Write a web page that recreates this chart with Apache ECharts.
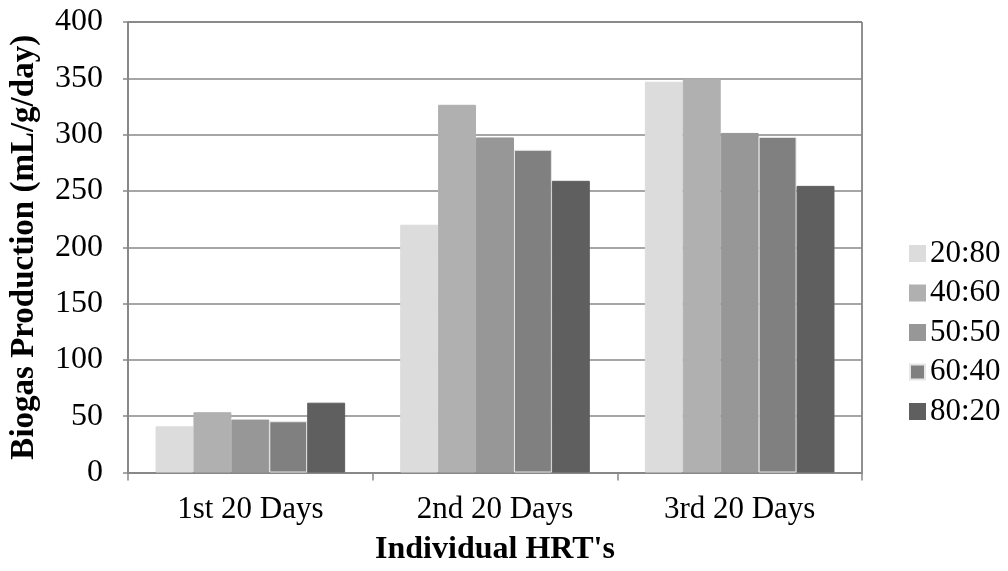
<!DOCTYPE html>
<html>
<head>
<meta charset="utf-8">
<script src="https://cdn.jsdelivr.net/npm/echarts@6/dist/echarts.min.js"></script>
<style>
html,body{margin:0;padding:0;background:#fff;}
#chart{width:1008px;height:571px;}
</style>
</head>
<body>
<div id="chart"></div>
<script>
// Biogas production per HRT period for each mixing ratio
const categories = ["1st 20 Days", "2nd 20 Days", "3rd 20 Days"];
const seriesNames = ["20:80", "40:60", "50:50", "60:40", "80:20"];
const values2080 = [41, 220, 347];
const values4060 = [53.5, 326.5, 349.5];
const values5050 = [47, 297.5, 301.5];
const values6040 = [45.5, 286.5, 298];
const values8020 = [62, 259, 254.5];
const yTicks = [0, 50, 100, 150, 200, 250, 300, 350, 400];

const seriesValues = [values2080, values4060, values5050, values6040, values8020];
const colors = ["#dcdcdc", "#b0b0b0", "#979797", "#808080", "#5f5f5f"];
const font = "'Liberation Serif', 'Times New Roman', serif";

const chart = echarts.init(document.getElementById('chart'));
chart.setOption({
  animation: false,
  backgroundColor: '#fff',
  textStyle: { fontFamily: font },
  grid: {
    left: 125, right: 146, top: 22, bottom: 98.5,
    show: true, borderColor: '#222', borderWidth: 1
  },
  legend: {
    orient: 'vertical',
    left: 904, top: 233,
    itemWidth: 15, itemHeight: 15, itemGap: 8.5,
    icon: 'rect',
    textStyle: { fontFamily: font, fontSize: 31, lineHeight: 30, color: '#000', padding: [0, 0, 0, 0] },
    data: seriesNames
  },
  xAxis: {
    type: 'category',
    data: categories,
    name: "Individual HRT's",
    nameLocation: 'middle',
    nameGap: 61,
    nameTextStyle: { fontFamily: font, fontSize: 32, fontWeight: 'bold', color: '#000' },
    axisLine: { lineStyle: { color: '#888', width: 2 } },
    axisTick: { show: true, length: 8, lineStyle: { color: '#888', width: 1.5 } },
    axisLabel: { fontFamily: font, fontSize: 31, color: '#000', margin: 22 }
  },
  yAxis: {
    type: 'value',
    min: yTicks[0], max: yTicks[yTicks.length - 1], interval: yTicks[1] - yTicks[0],
    name: 'Biogas Production (mL/g/day)',
    nameLocation: 'middle',
    nameGap: 87,
    nameTextStyle: { fontFamily: font, fontSize: 33, fontWeight: 'bold', color: '#000' },
    axisLine: { show: true, lineStyle: { color: '#888', width: 2 } },
    axisTick: { show: true, length: 5, lineStyle: { color: '#888', width: 1.5 } },
    axisLabel: { fontFamily: font, fontSize: 32, color: '#000', margin: 25 },
    splitLine: { lineStyle: { color: '#888', width: 1.5 } }
  },
  series: seriesNames.map((name, i) => ({
    name: name,
    type: 'bar',
    data: seriesValues[i],
    barGap: '0%',
    barCategoryGap: '22.5%',
    itemStyle: {
      color: colors[i],
      borderColor: i === 3 ? '#e6e6e6' : colors[i],
      borderWidth: 1
    }
  }))
});
</script>
</body>
</html>
